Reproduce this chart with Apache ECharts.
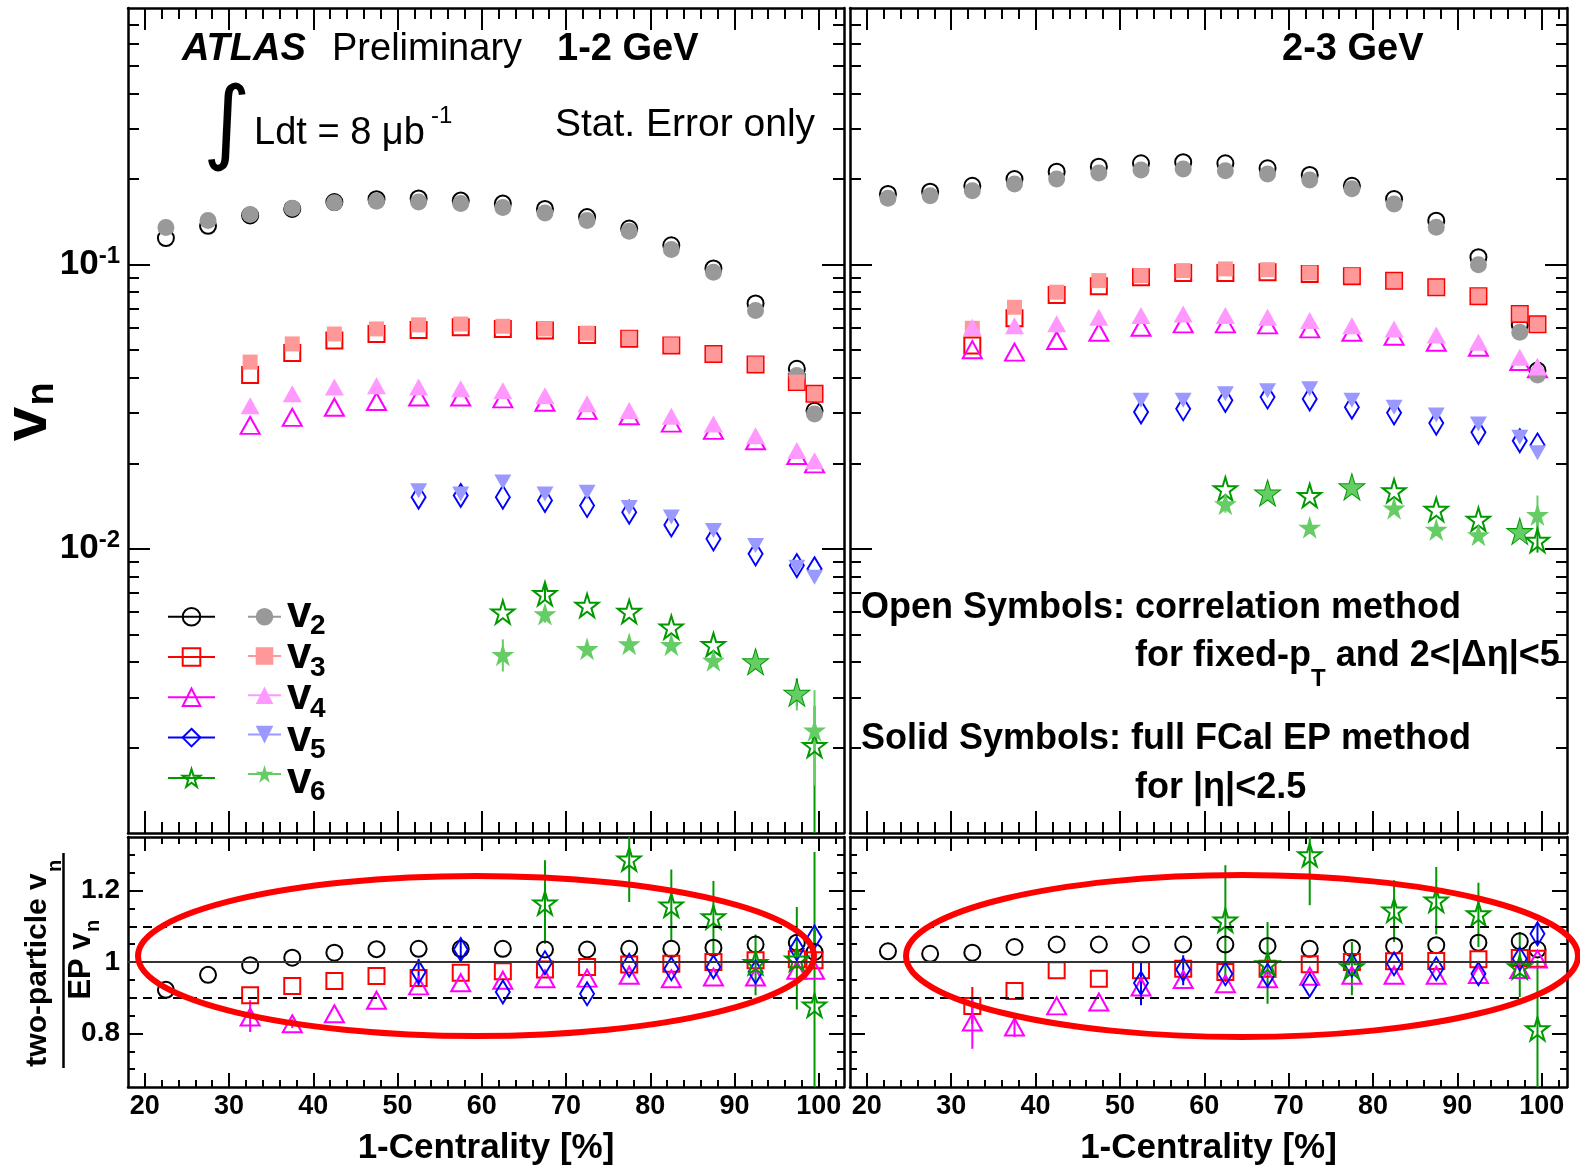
<!DOCTYPE html>
<html>
<head>
<meta charset="utf-8">
<title>ATLAS vn: correlation vs EP method</title>
<script src="https://cdn.jsdelivr.net/npm/echarts@6.0.0/dist/echarts.min.js"></script>
<style>
  html, body { margin: 0; padding: 0; background: #fff; }
  #chart { width: 1580px; height: 1169px; }
</style>
</head>
<body>
<div id="chart"></div>
<script>
// 1-centrality bin centres [%]
const xCent = [22.5, 27.5, 32.5, 37.5, 42.5, 47.5, 52.5, 57.5, 62.5, 67.5, 72.5, 77.5, 82.5, 87.5, 92.5, 97.4, 99.5];
const _ = null;

// axis ticks
const xMajorTicks = [20, 30, 40, 50, 60, 70, 80, 90, 100];
const xMinorTicks = [22, 24, 26, 28, 32, 34, 36, 38, 42, 44, 46, 48, 52, 54, 56, 58, 62, 64, 66, 68,
  72, 74, 76, 78, 82, 84, 86, 88, 92, 94, 96, 98, 102];
const logMajorTicks = [0.01, 0.1];
const logMinorTicks = [0.002, 0.003, 0.004, 0.005, 0.006, 0.007, 0.008, 0.009,
  0.02, 0.03, 0.04, 0.05, 0.06, 0.07, 0.08, 0.09, 0.2, 0.3, 0.4, 0.5, 0.6, 0.7];
const ratioMajorTicks = [0.8, 1, 1.2];
const ratioMinorTicks = [0.7, 0.75, 0.85, 0.9, 0.95, 1.05, 1.1, 1.15, 1.25, 1.3];

// 1-2 GeV: correlation method (open) and FCal EP (solid)
const v2Corr12 = [0.124, 0.137, 0.149, 0.157, 0.166, 0.170, 0.171, 0.168, 0.164, 0.157, 0.147, 0.134, 0.117, 0.097, 0.073, 0.043, 0.0306];
const v2Ep12   = [0.135, 0.143, 0.150, 0.158, 0.165, 0.167, 0.166, 0.164, 0.159, 0.152, 0.143, 0.131, 0.113, 0.094, 0.069, 0.0407, 0.0298];
const v3Corr12 = [_, _, 0.0409, 0.0489, 0.0541, 0.0570, 0.0589, 0.0602, 0.0594, 0.0586, 0.0566, 0.0548, 0.0519, 0.0485, 0.0445, 0.0386, 0.0351];
const v3Ep12   = [_, _, 0.0454, 0.0526, 0.0570, 0.0594, 0.0614, 0.0618, 0.0607, 0.0594, 0.0574, 0.0551, 0.0522, 0.0485, 0.0447, 0.0386, 0.0351];
const v4Corr12 = [_, _, 0.0272, 0.0290, 0.0315, 0.0330, 0.0342, 0.0342, 0.0337, 0.0328, 0.0307, 0.0294, 0.0277, 0.0261, 0.0240, 0.0213, 0.0199];
const v4Ep12   = [_, _, 0.0319, 0.0351, 0.0371, 0.0375, 0.0371, 0.0366, 0.0360, 0.0346, 0.0324, 0.0307, 0.0293, 0.0275, 0.0250, 0.0222, 0.0204];
const v5Corr12 = [_, _, _, _, _, _, 0.0152, 0.0154, 0.0152, 0.0148, 0.0142, 0.01346, 0.01214, 0.01084, 0.0096, 0.00873, 0.00851];
const v5Ep12   = [_, _, _, _, _, _, 0.0160, 0.0156, 0.0172, 0.0156, 0.0158, 0.01398, 0.01294, 0.0116, 0.01028, 0.00862, 0.00795];
const v6Corr12 = [_, _, _, _, _, _, _, _, 0.00599, 0.00695, 0.00632, 0.00602, 0.0053, 0.0046, 0.0040, 0.0031, 0.00203];
const v6Ep12   = [_, _, _, _, _, _, _, _, 0.00424, 0.0059, 0.00445, 0.00463, 0.0046, 0.00405, 0.0040, 0.0031, 0.0023];

// 2-3 GeV
const v2Corr23 = [0.1773, 0.1806, 0.1895, 0.2001, 0.2124, 0.2212, 0.2274, 0.2293, 0.2274, 0.2183, 0.2068, 0.1895, 0.1702, 0.1428, 0.1062, 0.0614, 0.0424];
const v2Ep23   = [0.1713, 0.1748, 0.1820, 0.1923, 0.2001, 0.2102, 0.2152, 0.2169, 0.2139, 0.2085, 0.1985, 0.1850, 0.1635, 0.1354, 0.1000, 0.0578, 0.0409];
const v3Corr23 = [_, _, 0.0519, 0.0648, 0.0782, 0.0839, 0.0903, 0.0935, 0.0935, 0.0940, 0.0927, 0.0910, 0.0877, 0.0833, 0.0774, 0.0671, 0.0617];
const v3Ep23   = [_, _, 0.0597, 0.0708, 0.0800, 0.0879, 0.0915, 0.0953, 0.0966, 0.0960, 0.0935, 0.0915, 0.0877, 0.0833, 0.0776, 0.0671, 0.0617];
const v4Corr23 = [_, _, 0.0502, 0.0492, 0.0541, 0.0578, 0.0602, 0.0619, 0.0619, 0.0614, 0.0594, 0.0578, 0.0560, 0.0533, 0.0512, 0.0456, 0.0430];
const v4Ep23   = [_, _, 0.0602, 0.0610, 0.0619, 0.0653, 0.0662, 0.0671, 0.0662, 0.0653, 0.0636, 0.0610, 0.0594, 0.0565, 0.0533, 0.0472, 0.0436];
const v5Corr23 = [_, _, _, _, _, _, 0.0303, 0.0311, 0.0333, 0.0342, 0.0337, 0.0315, 0.0301, 0.0277, 0.0257, 0.0240, 0.0232];
const v5Ep23   = [_, _, _, _, _, _, 0.0333, 0.0333, 0.0351, 0.0360, 0.0366, 0.0333, 0.0315, 0.0296, 0.0275, 0.0247, 0.0218];
const v6Corr23 = [_, _, _, _, _, _, _, _, 0.01626, 0.0157, 0.0154, 0.0165, 0.0160, 0.01375, 0.0127, 0.0115, 0.0107];
const v6Ep23   = [_, _, _, _, _, _, _, _, 0.0144, 0.0157, 0.0119, 0.0165, 0.0139, 0.0117, 0.0112, 0.01148, 0.0132];

// stat. errors (low / high) where they stick out of the markers
const v6Corr12Lo = [_, _, _, _, _, _, _, _, _, 0.0066, _, _, _, _, _, 0.0028, 0.0005];
const v6Corr12Hi = [_, _, _, _, _, _, _, _, _, 0.0074, _, _, _, _, _, 0.0035, 0.0028];
const v6Ep12Lo   = [_, _, _, _, _, _, _, _, 0.0037, 0.0055, _, _, _, _, _, 0.0027, 0.00147];
const v6Ep12Hi   = [_, _, _, _, _, _, _, _, 0.0048, 0.0063, _, _, _, _, _, 0.0034, 0.00318];
const v6Corr23Lo = [_, _, _, _, _, _, _, _, _, _, _, _, _, _, _, _, 0.0097];
const v6Corr23Hi = [_, _, _, _, _, _, _, _, _, _, _, _, _, _, _, _, 0.0129];
const v6Ep23Lo   = [_, _, _, _, _, _, _, _, 0.0134, _, 0.0113, _, _, _, _, _, 0.0117];
const v6Ep23Hi   = [_, _, _, _, _, _, _, _, 0.0156, _, 0.0126, _, _, _, _, _, 0.0154];

// ratio two-particle vn / EP vn, 1-2 GeV
const r2_12 = [0.922, 0.964, 0.991, 1.012, 1.026, 1.036, 1.037, 1.037, 1.037, 1.035, 1.035, 1.037, 1.037, 1.040, 1.049, 1.054, 1.028];
const r3_12 = [_, _, 0.907, 0.933, 0.947, 0.961, 0.955, 0.970, 0.974, 0.979, 0.986, 0.993, 0.995, 1.000, 1.005, 1.008, 1.005];
const r4_12 = [_, _, 0.846, 0.827, 0.855, 0.893, 0.933, 0.942, 0.949, 0.953, 0.955, 0.963, 0.953, 0.958, 0.958, 0.977, 0.977];
const r5_12 = [_, _, _, _, _, _, 0.972, 1.035, 0.916, 0.998, 0.911, 0.991, 0.981, 0.986, 0.972, 1.037, 1.070];
const r6_12 = [_, _, _, _, _, _, _, _, _, 1.165, _, 1.288, 1.159, 1.126, 0.998, 1.008, 0.879];
const r4_12Lo = [_, _, 0.804, 0.815, _, _, _, _, _, _, _, _, _, _, _, _, _];
const r4_12Hi = [_, _, 0.893, 0.840, _, _, _, _, _, _, _, _, _, _, _, _, _];
const r5_12Lo = [_, _, _, _, _, _, 0.930, 1.000, _, _, _, _, _, _, _, _, 1.050];
const r5_12Hi = [_, _, _, _, _, _, 1.009, 1.063, _, _, _, _, _, _, _, _, 1.090];
const r6_12Lo = [_, _, _, _, _, _, _, _, _, 1.051, _, 1.168, 1.061, 1.023, 0.907, 0.867, 0.600];
const r6_12Hi = [_, _, _, _, _, _, _, _, _, 1.285, _, 1.360, 1.259, 1.227, 1.077, 1.154, 1.308];

// ratio, 2-3 GeV
const r2_23 = [1.030, 1.023, 1.026, 1.042, 1.049, 1.049, 1.049, 1.049, 1.049, 1.045, 1.037, 1.039, 1.045, 1.047, 1.054, 1.058, 1.035];
const r3_23 = [_, _, 0.877, 0.919, 0.977, 0.953, 0.977, 0.981, 0.972, 0.981, 0.994, 1.000, 1.002, 1.003, 1.008, 1.011, 1.009];
const r4_23 = [_, _, 0.832, 0.818, 0.877, 0.888, 0.930, 0.951, 0.939, 0.953, 0.960, 0.963, 0.963, 0.963, 0.965, 0.979, 1.008];
const r5_23 = [_, _, _, _, _, _, 0.941, 0.979, 0.967, 0.963, 0.935, 0.991, 0.995, 0.981, 0.967, 1.009, 1.079];
const r6_23 = [_, _, _, _, _, _, _, _, 1.117, 0.995, 1.300, 0.986, 1.145, 1.173, 1.135, 0.986, 0.813];
const r3_23Lo = [_, _, 0.827, _, _, _, _, _, _, _, _, _, _, _, _, _, _];
const r3_23Hi = [_, _, 0.930, _, _, _, _, _, _, _, _, _, _, _, _, _, _];
const r4_23Lo = [_, _, 0.757, 0.790, _, _, _, _, _, _, _, _, _, _, _, _, _];
const r4_23Hi = [_, _, 0.902, 0.850, _, _, _, _, _, _, _, _, _, _, _, _, _];
const r5_23Lo = [_, _, _, _, _, _, 0.879, 0.935, _, _, _, _, _, _, _, _, 1.050];
const r5_23Hi = [_, _, _, _, _, _, 1.000, 1.019, _, _, _, _, _, _, _, _, 1.110];
const r6_23Lo = [_, _, _, _, _, _, _, _, 0.944, 0.883, 1.159, 0.907, 1.056, 1.077, 1.042, 0.902, 0.600];
const r6_23Hi = [_, _, _, _, _, _, _, _, 1.271, 1.112, 1.360, 1.056, 1.229, 1.266, 1.222, 1.084, 1.005];

// ---- styles ----
const FONT = '"Liberation Sans", Arial, Helvetica, sans-serif';
const STAR = 'path://M50,0 L61,35 L98,35 L68,57 L79,91 L50,70 L21,91 L32,57 L2,35 L39,35 Z';
const openColor = ['#000000', '#ff0000', '#ff00ff', '#0000ff', '#009900'];
const fullColor = ['#999999', '#ff9999', '#ff99ff', '#9999ff', '#66cc66'];
const openSymbol = ['circle', 'rect', 'triangle', 'diamond', STAR];
const openSize = [16, 16, [19, 17], [14, 23], 23];
const fullSymbol = ['circle', 'rect', 'triangle', 'triangle', STAR];
const fullSize = [17, 15, [19, 17], [17, 15], 23];
const fullRotate = [0, 0, 0, 180, 0];

const grids = [
  { left: 128, top: 8, width: 716, height: 825 },
  { left: 850, top: 8, width: 717, height: 825 },
  { left: 128, top: 837, width: 716, height: 250 },
  { left: 850, top: 837, width: 717, height: 250 }
];

function pts(ys) {
  return xCent.map((x, i) => ys[i] == null ? null : [x, ys[i]]).filter(Boolean);
}
function bars(lo, hi) {
  return xCent.map((x, i) => lo[i] == null ? null : [x, lo[i], hi[i]]).filter(Boolean);
}

const tickStyle = { color: '#000', width: 2 };
const frameLine = { show: true, onZero: false, lineStyle: { color: '#000', width: 2.5 } };

function xAxesFor(g, labels, majLen, minLen) {
  const base = { type: 'value', gridIndex: g, min: 18, max: 103, splitLine: { show: false } };
  const lab = labels ? {
    customValues: xMajorTicks, margin: 6, color: '#000',
    fontSize: 27, fontWeight: 'bold', fontFamily: FONT
  } : { show: false };
  return [
    Object.assign({}, base, { position: 'bottom', axisLine: frameLine,
      axisTick: { inside: true, length: majLen, customValues: xMajorTicks, lineStyle: tickStyle },
      axisLabel: lab,
      name: labels ? '1-Centrality [%]' : '', nameLocation: 'middle', nameGap: 44,
      nameTextStyle: { fontSize: 35, fontWeight: 'bold', fontFamily: FONT, color: '#000' } }),
    Object.assign({}, base, { position: 'bottom', axisLine: { show: false },
      axisTick: { inside: true, length: minLen, customValues: xMinorTicks, lineStyle: tickStyle },
      axisLabel: { show: false } }),
    Object.assign({}, base, { position: 'top', axisLine: frameLine,
      axisTick: { inside: true, length: majLen, customValues: xMajorTicks, lineStyle: tickStyle },
      axisLabel: { show: false } }),
    Object.assign({}, base, { position: 'top', axisLine: { show: false },
      axisTick: { inside: true, length: minLen, customValues: xMinorTicks, lineStyle: tickStyle },
      axisLabel: { show: false } })
  ];
}

function yAxesFor(g, isLog, labels) {
  const base = isLog
    ? { type: 'log', logBase: 10, min: 0.001, max: 0.8 }
    : { type: 'value', min: 0.65, max: 1.35 };
  base.gridIndex = g;
  base.splitLine = { show: false };
  const major = isLog ? logMajorTicks : ratioMajorTicks;
  const minor = isLog ? logMinorTicks : ratioMinorTicks;
  const majLen = isLog ? 22 : 15;
  const minLen = isLog ? 11 : 7;
  let lab = { show: false };
  if (labels && isLog) {
    lab = {
      customValues: major, margin: 8, color: '#000',
      formatter: v => '{b|10}{s|' + Math.round(Math.log10(v)) + '}',
      rich: {
        b: { fontSize: 35, fontWeight: 'bold', fontFamily: FONT, lineHeight: 40, color: '#000' },
        s: { fontSize: 24, fontWeight: 'bold', fontFamily: FONT, lineHeight: 24, verticalAlign: 'top', color: '#000' }
      }
    };
  } else if (labels) {
    lab = {
      customValues: major, margin: 8, color: '#000', fontSize: 28, fontWeight: 'bold', fontFamily: FONT,
      formatter: v => (Math.abs(v - 1) < 1e-6 ? '1' : v.toFixed(1))
    };
  }
  return [
    Object.assign({}, base, { position: 'left', axisLine: frameLine,
      axisTick: { inside: true, length: majLen, customValues: major, lineStyle: tickStyle }, axisLabel: lab }),
    Object.assign({}, base, { position: 'left', axisLine: { show: false },
      axisTick: { inside: true, length: minLen, customValues: minor, lineStyle: tickStyle }, axisLabel: { show: false } }),
    Object.assign({}, base, { position: 'right', axisLine: frameLine,
      axisTick: { inside: true, length: majLen, customValues: major, lineStyle: tickStyle }, axisLabel: { show: false } }),
    Object.assign({}, base, { position: 'right', axisLine: { show: false },
      axisTick: { inside: true, length: minLen, customValues: minor, lineStyle: tickStyle }, axisLabel: { show: false } })
  ];
}

function openSeries(g, k, ys) {
  return {
    type: 'scatter', name: 'corr-v' + (k + 2) + '-' + g, xAxisIndex: 4 * g, yAxisIndex: 4 * g,
    data: pts(ys), symbol: openSymbol[k], symbolSize: openSize[k], z: 3, silent: true,
    itemStyle: { color: 'rgba(0,0,0,0)', borderColor: openColor[k], borderWidth: 2, opacity: 1 }
  };
}
function fullSeries(g, k, ys) {
  return {
    type: 'scatter', name: 'ep-v' + (k + 2) + '-' + g, xAxisIndex: 4 * g, yAxisIndex: 4 * g,
    data: pts(ys), symbol: fullSymbol[k], symbolSize: fullSize[k], symbolRotate: fullRotate[k],
    z: 4, silent: true, itemStyle: { color: fullColor[k], opacity: 1 }
  };
}
function errSeries(g, lo, hi, color) {
  return {
    type: 'custom', xAxisIndex: 4 * g, yAxisIndex: 4 * g, data: bars(lo, hi), clip: true, z: 2,
    silent: true, encode: { x: 0, y: [1, 2] },
    renderItem(params, api) {
      const a = api.coord([api.value(0), api.value(1)]);
      const b = api.coord([api.value(0), api.value(2)]);
      return { type: 'line', shape: { x1: a[0], y1: a[1], x2: b[0], y2: b[1] },
        style: { stroke: color, lineWidth: 2 } };
    }
  };
}
function refLines(g) {
  return {
    type: 'line', xAxisIndex: 4 * g, yAxisIndex: 4 * g, data: [], z: 1, silent: true,
    markLine: {
      silent: true, symbol: 'none', label: { show: false }, animation: false,
      data: [
        { yAxis: 1, lineStyle: { type: 'solid', color: '#333', width: 2 } },
        { yAxis: 0.9, lineStyle: { type: [9, 6], color: '#000', width: 2 } },
        { yAxis: 1.1, lineStyle: { type: [9, 6], color: '#000', width: 2 } }
      ]
    }
  };
}
function legendSeries(k, open) {
  return {
    type: 'line', name: (open ? 'o' : 'f') + (k + 2), xAxisIndex: 0, yAxisIndex: 0, data: [],
    symbol: open ? openSymbol[k] : fullSymbol[k], symbolRotate: open ? 0 : fullRotate[k],
    itemStyle: open ? { color: 'rgba(0,0,0,0)', borderColor: openColor[k], borderWidth: 2 }
                    : { color: fullColor[k] },
    lineStyle: { color: open ? openColor[k] : fullColor[k], width: 2 }
  };
}

const corr12 = [v2Corr12, v3Corr12, v4Corr12, v5Corr12, v6Corr12];
const ep12 = [v2Ep12, v3Ep12, v4Ep12, v5Ep12, v6Ep12];
const corr23 = [v2Corr23, v3Corr23, v4Corr23, v5Corr23, v6Corr23];
const ep23 = [v2Ep23, v3Ep23, v4Ep23, v5Ep23, v6Ep23];
const ratio12 = [r2_12, r3_12, r4_12, r5_12, r6_12];
const ratio23 = [r2_23, r3_23, r4_23, r5_23, r6_23];

const series = [];
series.push(errSeries(0, v6Corr12Lo, v6Corr12Hi, openColor[4]));
series.push(errSeries(0, v6Ep12Lo, v6Ep12Hi, fullColor[4]));
series.push(errSeries(1, v6Corr23Lo, v6Corr23Hi, openColor[4]));
series.push(errSeries(1, v6Ep23Lo, v6Ep23Hi, fullColor[4]));
series.push(errSeries(2, r4_12Lo, r4_12Hi, openColor[2]));
series.push(errSeries(2, r5_12Lo, r5_12Hi, openColor[3]));
series.push(errSeries(2, r6_12Lo, r6_12Hi, openColor[4]));
series.push(errSeries(3, r3_23Lo, r3_23Hi, openColor[1]));
series.push(errSeries(3, r4_23Lo, r4_23Hi, openColor[2]));
series.push(errSeries(3, r5_23Lo, r5_23Hi, openColor[3]));
series.push(errSeries(3, r6_23Lo, r6_23Hi, openColor[4]));
series.push(refLines(2), refLines(3));
for (let k = 0; k < 5; k++) {
  series.push(openSeries(0, k, corr12[k]), openSeries(1, k, corr23[k]));
  series.push(openSeries(2, k, ratio12[k]), openSeries(3, k, ratio23[k]));
}
for (let k = 0; k < 5; k++) {
  series.push(fullSeries(0, k, ep12[k]), fullSeries(1, k, ep23[k]));
}
for (let k = 0; k < 5; k++) series.push(legendSeries(k, true), legendSeries(k, false));

// ---- text decoration ----
function txt(text, x, y, font, extra) {
  return Object.assign({ type: 'text', x, y, silent: true, z: 50,
    style: { text, font: font + ' ' + FONT, fill: '#000', align: 'left', verticalAlign: 'middle' } }, extra || {});
}
function vtxt(text, x, y, font) {
  return { type: 'text', x, y, rotation: Math.PI / 2, silent: true, z: 50,
    style: { text, font: font + ' ' + FONT, fill: '#000', align: 'center', verticalAlign: 'middle' } };
}

const legendRows = [616.7, 658.3, 699.3, 740.7, 782.7];
const graphics = [
  txt('ATLAS', 182, 50, 'italic bold 38px'),
  txt('Preliminary', 332, 50, '38px'),
  txt('1-2 GeV', 557, 50, 'bold 38px'),
  { type: 'text', x: 227, y: 128, silent: true, z: 50,
    style: { text: '\u222B', font: '92px "DejaVu Sans", sans-serif', fill: '#000', align: 'center', verticalAlign: 'middle' } },
  txt('Ldt = 8 \u03BCb', 254, 134, '38px'),
  txt('-1', 431, 116, '24px'),
  txt('Stat. Error only', 555, 125, '39px'),
  txt('2-3 GeV', 1282, 50, 'bold 38px'),
  txt('Open Symbols: correlation method', 861, 608, 'bold 36px'),
  { type: 'text', x: 1135, y: 656, silent: true, z: 50,
    style: {
      text: '{a|for fixed-p}{s|T}{a| and 2<|\u0394\u03B7|<5}', fill: '#000', align: 'left', verticalAlign: 'middle',
      rich: {
        a: { font: 'bold 36px ' + FONT, lineHeight: 70, fill: '#000' },
        s: { font: 'bold 24px ' + FONT, lineHeight: 24, verticalAlign: 'bottom', fill: '#000' }
      }
    } },
  txt('Solid Symbols: full FCal EP method', 861, 739.5, 'bold 36px'),
  txt('for |\u03B7|<2.5', 1135, 788, 'bold 36px'),
  // y titles
  vtxt('v', 29, 424, 'bold 62px'),
  vtxt('n', 43, 394, 'bold 38px'),
  vtxt('two-particle v', 37.6, 970, 'bold 30px'),
  vtxt('n', 55, 866, 'bold 20px'),
  vtxt('EP v', 81, 966, 'bold 31px'),
  vtxt('n', 93, 926, 'bold 20px'),
  { type: 'line', silent: true, z: 50, shape: { x1: 63.5, y1: 853, x2: 63.5, y2: 1068 },
    style: { stroke: '#000', lineWidth: 2.5 } },
  // highlight ellipses
  { type: 'ellipse', silent: true, z: 100, shape: { cx: 476, cy: 956, rx: 338, ry: 80 },
    style: { fill: 'none', stroke: '#ff0000', lineWidth: 6 } },
  { type: 'ellipse', silent: true, z: 100, shape: { cx: 1242, cy: 956, rx: 336, ry: 81 },
    style: { fill: 'none', stroke: '#ff0000', lineWidth: 6 } }
];
legendRows.forEach((ry, i) => {
  graphics.push(txt('v', 287, ry - 2, 'bold 44px'));
  graphics.push(txt(String(i + 2), 310, ry + 10, 'bold 28px'));
});

const option = {
  animation: false,
  backgroundColor: '#fff',
  grid: grids,
  xAxis: [].concat(xAxesFor(0, false, 22, 11), xAxesFor(1, false, 22, 11),
                   xAxesFor(2, true, 14, 7), xAxesFor(3, true, 14, 7)),
  yAxis: [].concat(yAxesFor(0, true, true), yAxesFor(1, true, false),
                   yAxesFor(2, false, true), yAxesFor(3, false, false)),
  legend: [
    { data: ['o2', 'o3', 'o4', 'o5', 'o6'], orient: 'vertical', left: 167, top: 605.7, padding: 0,
      itemWidth: 47, itemHeight: 22, itemGap: 19.5, selectedMode: false, formatter: () => '',
      textStyle: { fontSize: 10 } },
    { data: ['f2', 'f3', 'f4', 'f5', 'f6'], orient: 'vertical', left: 247, top: 605.7, padding: 0,
      itemWidth: 33, itemHeight: 22, itemGap: 19.5, selectedMode: false, formatter: () => '',
      textStyle: { fontSize: 10 } }
  ],
  graphic: graphics,
  series: series
};

const chart = echarts.init(document.getElementById('chart'), null, { renderer: 'canvas' });
chart.setOption(option);
</script>
</body>
</html>
